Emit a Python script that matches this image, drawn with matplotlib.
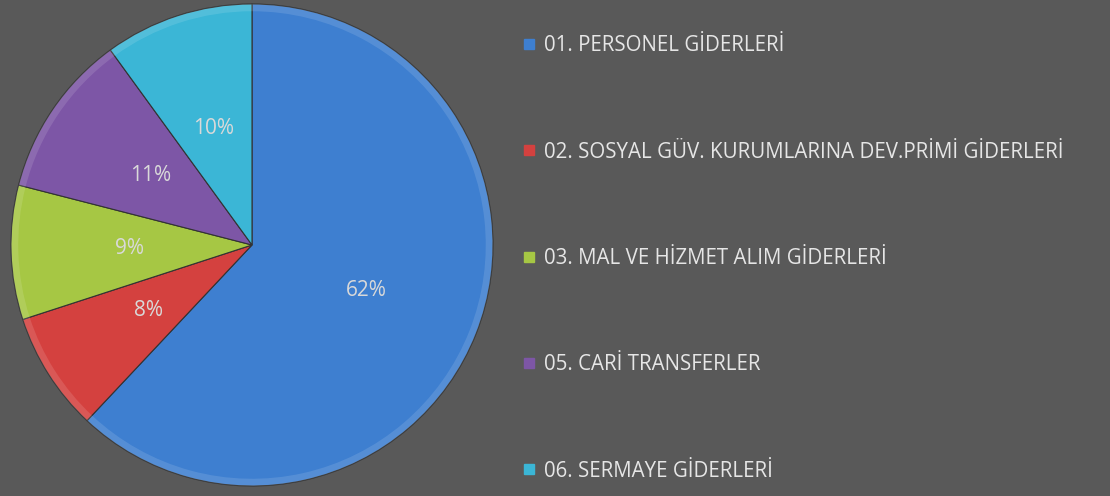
import matplotlib.pyplot as plt
from matplotlib.lines import Line2D

categories = ["01. PERSONEL GİDERLERİ",
              "02. SOSYAL GÜV. KURUMLARINA DEV.PRİMİ GİDERLERİ",
              "03. MAL VE HİZMET ALIM GİDERLERİ",
              "05. CARİ TRANSFERLER",
              "06. SERMAYE GİDERLERİ"]
values = [62, 8, 9, 11, 10]
colors = ["#3e7fd0", "#d4413f", "#a6c744", "#7d56a6", "#3bb6d6"]

bg = "#595959"
plt.rcParams['font.family'] = ['Open Sans', 'DejaVu Sans']

fig = plt.figure(figsize=(11.1, 4.96), dpi=100, facecolor=bg)
# pie centre at about (252, 245) px, radius about 241 px
ax = fig.add_axes([11/1110, 10/496, 482/1110, 482/496])
ax.set_facecolor(bg)

wedges, texts, autotexts = ax.pie(values, colors=colors, startangle=90, counterclock=False,
                                  autopct='%1.0f%%', pctdistance=0.51, radius=1,
                                  wedgeprops=dict(edgecolor="#333333", linewidth=0.8),
                                  textprops=dict(color="#d9d9d9", fontsize=15))
# thin rim for a bevelled look
ax.pie(values, colors=["none"] * len(values), startangle=90, counterclock=False, radius=1,
       wedgeprops=dict(width=0.03, edgecolor="none", facecolor=(1, 1, 1, 0.12)))
ax.set_xlim(-1, 1)
ax.set_ylim(-1, 1)
ax.set_aspect('equal')
ax.axis('off')

handles = [Line2D([], [], marker='s', linestyle='none', markersize=7,
                  markerfacecolor=c, markeredgecolor=c) for c in colors]
fig.legend(handles, categories, loc='upper left', bbox_to_anchor=(512/1110, 1 - 25/496),
           frameon=False, labelcolor="#e6e6e6", fontsize=14.8, labelspacing=4.15,
           handlelength=0.7, handletextpad=0.35, borderpad=0)

fig.savefig("out.png", dpi=100, facecolor=bg)
